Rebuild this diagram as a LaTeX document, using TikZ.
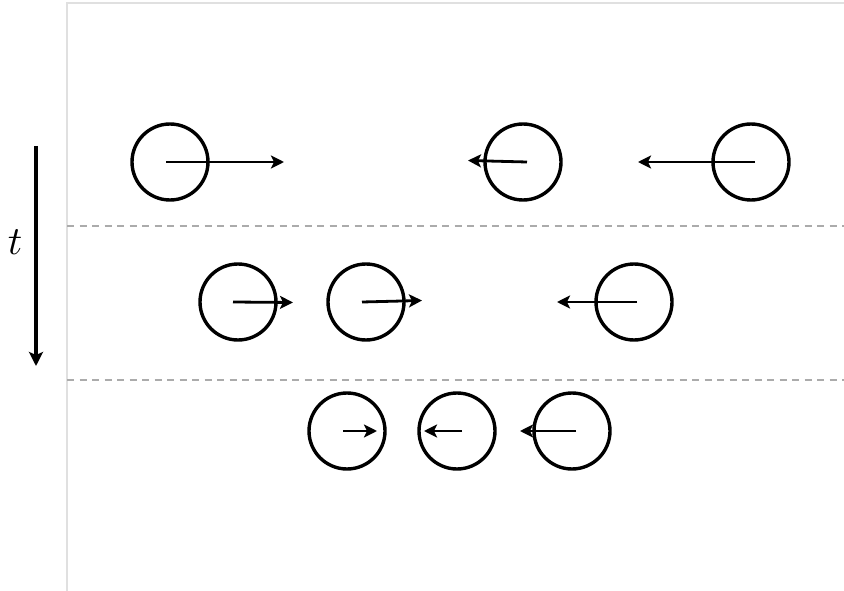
\documentclass[tikz,border=0pt]{standalone}
\usetikzlibrary{arrows.meta}
\begin{document}
\begin{tikzpicture}[x=1pt,y=-1pt,
  ball/.style={circle,draw=black,line width=3.4pt,minimum size=76pt,inner sep=0pt},
  vel/.style={line width=2.8pt,-{Stealth[length=13pt,width=13pt,inset=3pt]}},
  sep/.style={draw=black!33,line width=1.6pt,dash pattern=on 7pt off 5.5pt},
  frame/.style={draw=black!12,line width=1.4pt}]
\useasboundingbox (0,0) rectangle (844,591);
% frame
\coordinate (fo) at (67,591);
\coordinate (ft) at (67,3);
\coordinate (fr) at (844,3);
\draw[frame] (fo) -- (ft) -- (fr);
% separators
\coordinate (s1a) at (67,226); \coordinate (s1b) at (844,226);
\coordinate (s2a) at (67,380); \coordinate (s2b) at (844,380);
\draw[sep] (s1a) -- (s1b);
\draw[sep] (s2a) -- (s2b);
% time axis
\coordinate (ta) at (36,146); \coordinate (tb) at (36,366);
\draw[line width=3.2pt,-{Stealth[length=14pt,width=14pt,inset=3pt]}] (ta) -- (tb);
\node[scale=4] (tl) at (15,242) {$t$};
% row 1
\node[ball] (a1) at (170,162) {};
\node[ball] (a2) at (523,162) {};
\node[ball] (a3) at (751,162) {};
\coordinate (v1) at (284,162);
\coordinate (v2) at (468,160.5);
\coordinate (v3) at (638,162);
\draw[vel] ([xshift=-4pt]a1.center) -- (v1);
\draw[vel] ([xshift=4pt]a2.center) -- (v2);
\draw[vel] ([xshift=4pt]a3.center) -- (v3);
% row 2
\node[ball] (b1) at (238,302) {};
\node[ball] (b2) at (366,302) {};
\node[ball] (b3) at (634,302) {};
\coordinate (w1) at (293,302.5);
\coordinate (w2) at (422,300.5);
\coordinate (w3) at (557,302);
\draw[vel] ([xshift=-5pt]b1.center) -- (w1);
\draw[vel] ([xshift=-4pt]b2.center) -- (w2);
\draw[vel] ([xshift=3pt]b3.center) -- (w3);
% row 3
\node[ball] (c1) at (347,431) {};
\node[ball] (c2) at (457,431) {};
\node[ball] (c3) at (572,431) {};
\coordinate (u1) at (377,431);
\coordinate (u2) at (424,431);
\coordinate (u3) at (520,431);
\draw[vel] ([xshift=-4pt]c1.center) -- (u1);
\draw[vel] ([xshift=5pt]c2.center) -- (u2);
\draw[vel] ([xshift=4pt]c3.center) -- (u3);
\end{tikzpicture}
\end{document}
